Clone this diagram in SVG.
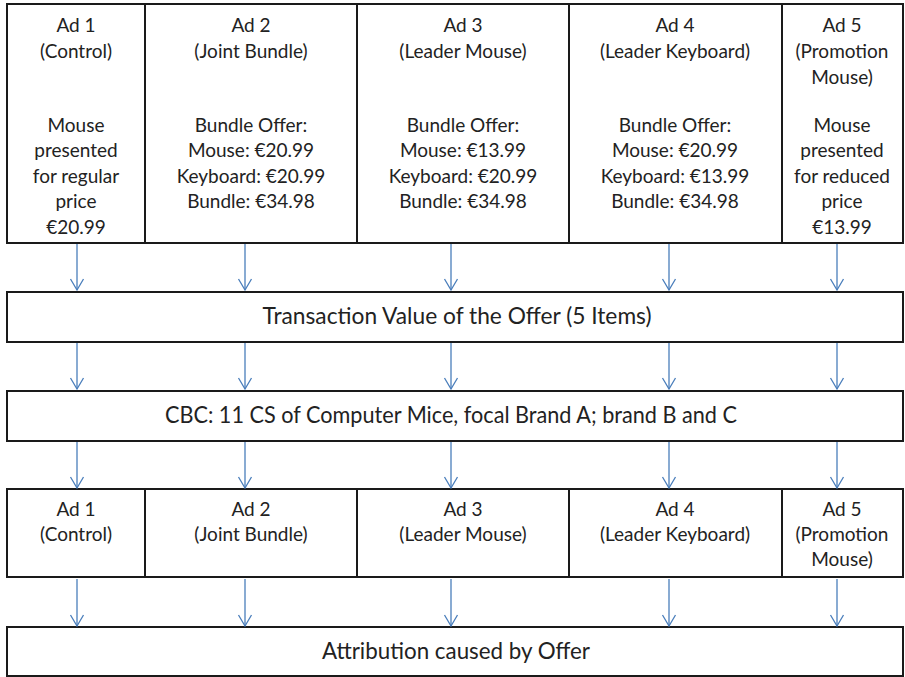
<svg xmlns="http://www.w3.org/2000/svg" width="905" height="677" viewBox="0 0 905 677">
<style>
.box{fill:#fff;stroke:#1a1a1a;stroke-width:2}
.div{stroke:#1a1a1a;stroke-width:2}
text{font-family:Lato,"Liberation Sans",sans-serif;font-size:19px;fill:#222;text-anchor:middle}
text.big{font-size:22.5px}
.arr{stroke:#4a7ebb;stroke-width:1.3;fill:none}
</style>
<defs>
<marker id="ah" markerWidth="14" markerHeight="16" refX="12" refY="7" orient="auto" markerUnits="userSpaceOnUse" viewBox="0 0 14 14">
<path d="M1,0.5 L12,7 L1,13.5" fill="none" stroke="#4a7ebb" stroke-width="1.3"/>
</marker>
</defs>
<rect width="905" height="677" fill="#fff"/>
<g id="top-row">
<rect class="box" x="7" y="4" width="896" height="239"/>
<line class="div" x1="145" y1="4" x2="145" y2="243"/>
<line class="div" x1="357" y1="4" x2="357" y2="243"/>
<line class="div" x1="569" y1="4" x2="569" y2="243"/>
<line class="div" x1="782" y1="4" x2="782" y2="243"/>
</g>
<g id="ad1-top"><text x="76" y="32">Ad 1</text><text x="76" y="58">(Control)</text><text x="76" y="132">Mouse</text><text x="76" y="157">presented</text><text x="76" y="183">for regular</text><text x="76" y="208">price</text><text x="76" y="234">€20.99</text></g>
<g id="ad2-top"><text x="251" y="32">Ad 2</text><text x="251" y="58">(Joint Bundle)</text><text x="251" y="132">Bundle Offer:</text><text x="251" y="157">Mouse: €20.99</text><text x="251" y="183">Keyboard: €20.99</text><text x="251" y="208">Bundle: €34.98</text></g>
<g id="ad3-top"><text x="463" y="32">Ad 3</text><text x="463" y="58">(Leader Mouse)</text><text x="463" y="132">Bundle Offer:</text><text x="463" y="157">Mouse: €13.99</text><text x="463" y="183">Keyboard: €20.99</text><text x="463" y="208">Bundle: €34.98</text></g>
<g id="ad4-top"><text x="675" y="32">Ad 4</text><text x="675" y="58">(Leader Keyboard)</text><text x="675" y="132">Bundle Offer:</text><text x="675" y="157">Mouse: €20.99</text><text x="675" y="183">Keyboard: €13.99</text><text x="675" y="208">Bundle: €34.98</text></g>
<g id="ad5-top"><text x="842" y="32">Ad 5</text><text x="842" y="58">(Promotion</text><text x="842" y="84">Mouse)</text><text x="842" y="132">Mouse</text><text x="842" y="157">presented</text><text x="842" y="183">for reduced</text><text x="842" y="208">price</text><text x="842" y="234">€13.99</text></g>
<g id="transaction"><rect class="box" x="7" y="292" width="896" height="50"/><text class="big" x="457" y="324" textLength="389" lengthAdjust="spacingAndGlyphs">Transaction Value of the Offer (5 Items)</text></g>
<g id="cbc"><rect class="box" x="7" y="391" width="896" height="50"/><text class="big" x="451" y="423" textLength="572" lengthAdjust="spacingAndGlyphs">CBC: 11 CS of Computer Mice, focal Brand A; brand B and C</text></g>
<g id="bottom-row">
<rect class="box" x="7" y="489" width="896" height="88"/>
<line class="div" x1="145" y1="489" x2="145" y2="577"/>
<line class="div" x1="357" y1="489" x2="357" y2="577"/>
<line class="div" x1="569" y1="489" x2="569" y2="577"/>
<line class="div" x1="782" y1="489" x2="782" y2="577"/>
</g>
<g id="ad1-bottom"><text x="76" y="516">Ad 1</text><text x="76" y="541">(Control)</text></g>
<g id="ad2-bottom"><text x="251" y="516">Ad 2</text><text x="251" y="541">(Joint Bundle)</text></g>
<g id="ad3-bottom"><text x="463" y="516">Ad 3</text><text x="463" y="541">(Leader Mouse)</text></g>
<g id="ad4-bottom"><text x="675" y="516">Ad 4</text><text x="675" y="541">(Leader Keyboard)</text></g>
<g id="ad5-bottom"><text x="842" y="516">Ad 5</text><text x="842" y="541">(Promotion</text><text x="842" y="566">Mouse)</text></g>
<g id="attribution"><rect class="box" x="7" y="627" width="896" height="49"/><text class="big" x="456" y="659" textLength="268" lengthAdjust="spacingAndGlyphs">Attribution caused by Offer</text></g>
<g id="connectors">
<line class="arr" x1="77" y1="244" x2="77" y2="290" marker-end="url(#ah)"/>
<line class="arr" x1="245" y1="244" x2="245" y2="290" marker-end="url(#ah)"/>
<line class="arr" x1="451" y1="244" x2="451" y2="290" marker-end="url(#ah)"/>
<line class="arr" x1="669" y1="244" x2="669" y2="290" marker-end="url(#ah)"/>
<line class="arr" x1="837" y1="244" x2="837" y2="290" marker-end="url(#ah)"/>
<line class="arr" x1="77" y1="343" x2="77" y2="389" marker-end="url(#ah)"/>
<line class="arr" x1="245" y1="343" x2="245" y2="389" marker-end="url(#ah)"/>
<line class="arr" x1="451" y1="343" x2="451" y2="389" marker-end="url(#ah)"/>
<line class="arr" x1="669" y1="343" x2="669" y2="389" marker-end="url(#ah)"/>
<line class="arr" x1="837" y1="343" x2="837" y2="389" marker-end="url(#ah)"/>
<line class="arr" x1="77" y1="442" x2="77" y2="488" marker-end="url(#ah)"/>
<line class="arr" x1="245" y1="442" x2="245" y2="488" marker-end="url(#ah)"/>
<line class="arr" x1="451" y1="442" x2="451" y2="488" marker-end="url(#ah)"/>
<line class="arr" x1="669" y1="442" x2="669" y2="488" marker-end="url(#ah)"/>
<line class="arr" x1="837" y1="442" x2="837" y2="488" marker-end="url(#ah)"/>
<line class="arr" x1="77" y1="579" x2="77" y2="626" marker-end="url(#ah)"/>
<line class="arr" x1="245" y1="579" x2="245" y2="626" marker-end="url(#ah)"/>
<line class="arr" x1="451" y1="579" x2="451" y2="626" marker-end="url(#ah)"/>
<line class="arr" x1="669" y1="579" x2="669" y2="626" marker-end="url(#ah)"/>
<line class="arr" x1="837" y1="579" x2="837" y2="626" marker-end="url(#ah)"/>
</g>
</svg>
